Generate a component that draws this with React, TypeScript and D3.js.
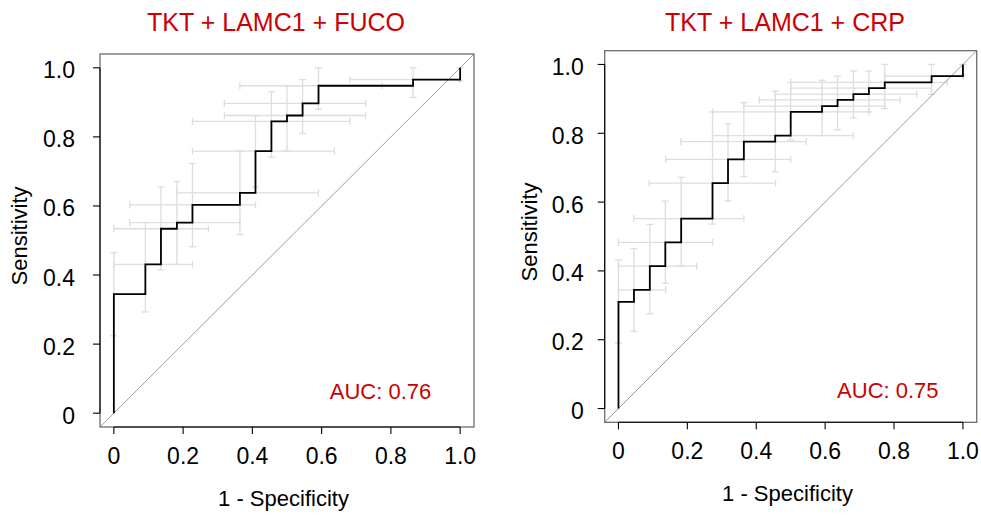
import React from "react";
import * as d3 from "d3";

// ---------- data ----------
const tickValues = [0, 0.2, 0.4, 0.6, 0.8, 1.0];
const tickLabels = ["0", "0.2", "0.4", "0.6", "0.8", "1.0"];
const xTitle = "1 - Specificity";
const yTitle = "Sensitivity";

// Left panel: TKT + LAMC1 + FUCO
const leftTitle = "TKT + LAMC1 + FUCO";
const leftAuc = "AUC: 0.76";
const leftFpr = [0, 0, 0.091, 0.136, 0.182, 0.227, 0.364, 0.409, 0.455, 0.5, 0.545, 0.591, 0.864, 1.0];
const leftTpr = [0, 0.345, 0.431, 0.534, 0.552, 0.603, 0.638, 0.759, 0.845, 0.862, 0.897, 0.948, 0.966, 1.0];
const leftCiX = [0, 0.091, 0.136, 0.182, 0.227, 0.364, 0.409, 0.455, 0.5, 0.545, 0.591, 0.864, 1.0];
const leftCiY = [0.345, 0.431, 0.534, 0.552, 0.603, 0.638, 0.759, 0.845, 0.862, 0.897, 0.948, 0.966, 1.0];
const leftCiXLo = [0, 0, 0, 0.046, 0.046, 0.182, 0.227, 0.227, 0.319, 0.319, 0.364, 0.682, 1.0];
const leftCiXHi = [0, 0.227, 0.273, 0.364, 0.409, 0.591, 0.637, 0.682, 0.727, 0.727, 0.774, 1.0, 1.0];
const leftCiYLo = [0.224, 0.293, 0.415, 0.431, 0.482, 0.517, 0.655, 0.741, 0.759, 0.81, 0.88, 0.914, 0.962];
const leftCiYHi = [0.465, 0.552, 0.655, 0.671, 0.723, 0.759, 0.861, 0.931, 0.948, 0.966, 1.0, 1.0, 1.0];

// Right panel: TKT + LAMC1 + CRP
const rightTitle = "TKT + LAMC1 + CRP";
const rightAuc = "AUC: 0.75";
const rightFpr = [0, 0, 0.045, 0.091, 0.136, 0.182, 0.273, 0.318, 0.364, 0.455, 0.5, 0.591, 0.636, 0.682, 0.727, 0.773, 0.909, 1.0];
const rightTpr = [0, 0.31, 0.345, 0.414, 0.483, 0.552, 0.655, 0.724, 0.776, 0.793, 0.862, 0.879, 0.897, 0.914, 0.931, 0.948, 0.966, 1.0];
const rightCiX = [0, 0.045, 0.091, 0.136, 0.182, 0.273, 0.318, 0.364, 0.455, 0.5, 0.591, 0.636, 0.682, 0.727, 0.773, 0.909, 1.0];
const rightCiY = [0.31, 0.345, 0.414, 0.483, 0.552, 0.655, 0.724, 0.776, 0.793, 0.862, 0.879, 0.897, 0.914, 0.931, 0.948, 0.966, 1.0];
const rightCiXLo = [0, 0, 0, 0, 0.045, 0.089, 0.137, 0.181, 0.273, 0.273, 0.364, 0.409, 0.455, 0.5, 0.5, 0.773, 1.0];
const rightCiXHi = [0, 0.137, 0.227, 0.273, 0.364, 0.456, 0.5, 0.545, 0.682, 0.727, 0.773, 0.818, 0.866, 0.909, 0.955, 1.0, 1.0];
const rightCiYLo = [0.19, 0.224, 0.275, 0.364, 0.414, 0.536, 0.603, 0.674, 0.688, 0.78, 0.793, 0.81, 0.845, 0.862, 0.872, 0.913, 0.969];
const rightCiYHi = [0.432, 0.465, 0.535, 0.603, 0.672, 0.862, 0.828, 0.889, 0.922, 0.948, 0.954, 0.966, 0.981, 0.981, 1.0, 1.0, 1.0];

// ---------- drawing ----------
const FONT = "'Liberation Sans', Arial, Helvetica, sans-serif";
const RED = "#cc0000";
const CI_COLOR = "#dddddd";
const CAP = 3.5;

type Layout = {
  left: number; right: number; top: number; bottom: number;
  tickGap: number;
  titleX: number; titleY: number;
  xTitleX: number; xTitleY: number;
  yTitleX: number; yTitleY: number;
  aucX: number; aucY: number;
};

type PanelProps = {
  layout: Layout;
  title: string;
  auc: string;
  fpr: number[]; tpr: number[];
  ciX: number[]; ciY: number[];
  ciXLo: number[]; ciXHi: number[];
  ciYLo: number[]; ciYHi: number[];
};

function Panel(p: PanelProps) {
  const L = p.layout;
  const x = d3.scaleLinear().domain([-0.04, 1.04]).range([L.left, L.right]);
  const y = d3.scaleLinear().domain([-0.04, 1.04]).range([L.bottom, L.top]);
  const pts: [number, number][] = p.fpr.map((f, i) => [f, p.tpr[i]]);
  const line = d3
    .line<[number, number]>()
    .x((d) => x(d[0]))
    .y((d) => y(d[1]))
    .curve(d3.curveStepAfter);

  const crosses = p.ciX.map((cx, i) => {
    const els: React.ReactNode[] = [];
    const cy = y(p.ciY[i]);
    const xl = x(p.ciXLo[i]);
    const xh = x(p.ciXHi[i]);
    const yl = y(p.ciYLo[i]);
    const yh = y(p.ciYHi[i]);
    const px = x(cx);
    if (xh - xl > 0.5) {
      els.push(<line key="h" x1={xl} x2={xh} y1={cy} y2={cy} />);
      els.push(<line key="hl" x1={xl} x2={xl} y1={cy - CAP} y2={cy + CAP} />);
      els.push(<line key="hh" x1={xh} x2={xh} y1={cy - CAP} y2={cy + CAP} />);
    }
    if (yl - yh > 0.5) {
      els.push(<line key="v" x1={px} x2={px} y1={yl} y2={yh} />);
      els.push(<line key="vl" x1={px - CAP} x2={px + CAP} y1={yl} y2={yl} />);
      els.push(<line key="vh" x1={px - CAP} x2={px + CAP} y1={yh} y2={yh} />);
    }
    return <g key={i}>{els}</g>;
  });

  return (
    <g fontFamily={FONT}>
      {/* confidence crosses */}
      <g stroke={CI_COLOR} strokeWidth={1.3} fill="none">{crosses}</g>
      {/* diagonal */}
      <line
        x1={x(-0.04)} y1={y(-0.04)} x2={x(1.04)} y2={y(1.04)}
        stroke="#9e9e9e" strokeWidth={1}
      />
      {/* ROC curve */}
      <path d={line(pts) || ""} fill="none" stroke="#000" strokeWidth={1.8} />
      {/* box */}
      <rect
        x={L.left} y={L.top} width={L.right - L.left} height={L.bottom - L.top}
        fill="none" stroke="#6e6e6e" strokeWidth={1.3}
      />
      {/* y axis */}
      <g stroke="#000" strokeWidth={1.1}>
        <line x1={L.left} x2={L.left} y1={y(0)} y2={y(1)} />
        {tickValues.map((t) => (
          <line key={t} x1={L.left - 7} x2={L.left} y1={y(t)} y2={y(t)} />
        ))}
      </g>
      {tickValues.map((t, i) => (
        <text key={t} x={L.left - L.tickGap} y={y(t) + 10.5} textAnchor="end" fontSize={23} fill="#000">
          {tickLabels[i]}
        </text>
      ))}
      {/* x axis */}
      <g stroke="#000" strokeWidth={1.1}>
        <line x1={x(0)} x2={x(1)} y1={L.bottom} y2={L.bottom} />
        {tickValues.map((t) => (
          <line key={t} x1={x(t)} x2={x(t)} y1={L.bottom} y2={L.bottom + 7} />
        ))}
      </g>
      {tickValues.map((t, i) => (
        <text key={t} x={x(t)} y={L.bottom + 37} textAnchor="middle" fontSize={23} fill="#000">
          {tickLabels[i]}
        </text>
      ))}
      {/* titles */}
      <text x={L.titleX} y={L.titleY} textAnchor="middle" fontSize={25} fill={RED}>
        {p.title}
      </text>
      <text x={L.xTitleX} y={L.xTitleY} textAnchor="middle" fontSize={22} fill="#000">
        {xTitle}
      </text>
      <text
        transform={`translate(${L.yTitleX},${L.yTitleY}) rotate(-90)`}
        textAnchor="middle" fontSize={22} fill="#000"
      >
        {yTitle}
      </text>
      <text x={x(L.aucX)} y={y(L.aucY)} textAnchor="middle" fontSize={22} fill={RED}>
        {p.auc}
      </text>
    </g>
  );
}

const leftLayout: Layout = {
  left: 100, right: 474, top: 54, bottom: 427,
  tickGap: 25,
  titleX: 276, titleY: 31,
  xTitleX: 283.5, xTitleY: 505.5,
  yTitleX: 27, yTitleY: 236,
  aucX: 0.77, aucY: 0.04,
};

const rightLayout: Layout = {
  left: 604.7, right: 976.7, top: 50.7, bottom: 422.3,
  tickGap: 21,
  titleX: 785, titleY: 30.5,
  xTitleX: 787.5, xTitleY: 501,
  yTitleX: 537, yTitleY: 232,
  aucX: 0.782, aucY: 0.031,
};

export default function App() {
  return (
    <svg
      width={981}
      height={516}
      viewBox="0 0 981 516"
      style={{ position: "absolute", left: 0, top: 0, background: "#fff" }}
    >
      <rect x={0} y={0} width={981} height={516} fill="#fff" />
      <Panel
        layout={leftLayout} title={leftTitle} auc={leftAuc}
        fpr={leftFpr} tpr={leftTpr}
        ciX={leftCiX} ciY={leftCiY} ciXLo={leftCiXLo} ciXHi={leftCiXHi}
        ciYLo={leftCiYLo} ciYHi={leftCiYHi}
      />
      <Panel
        layout={rightLayout} title={rightTitle} auc={rightAuc}
        fpr={rightFpr} tpr={rightTpr}
        ciX={rightCiX} ciY={rightCiY} ciXLo={rightCiXLo} ciXHi={rightCiXHi}
        ciYLo={rightCiYLo} ciYHi={rightCiYHi}
      />
    </svg>
  );
}
